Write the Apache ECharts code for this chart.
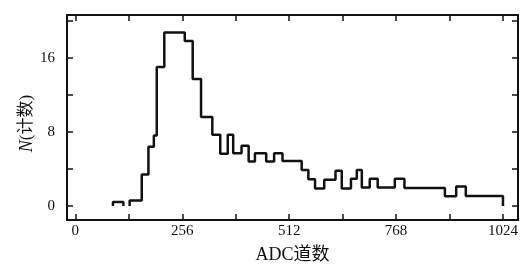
<!DOCTYPE html>
<html>
<head>
<meta charset="utf-8">
<script src="https://cdn.jsdelivr.net/npm/echarts@6.0.0/dist/echarts.min.js"></script>
<style>
html,body{margin:0;padding:0;background:#fff}
#main{width:526px;height:264px}
</style>
</head>
<body>
<div id="main"></div>
<script>
// bin edges (ADC channel) and level of each bin
var edges = [130,159,175,188,195,213,262,281,301,328,347,365,378,398,415,430,457,476,496,542,
             558,574,596,623,638,660,674,686,705,724,765,788,885,912,935,1024];
var counts = [0.6,3.4,6.4,7.6,15.0,18.7,17.8,13.7,9.6,7.7,5.65,7.7,5.7,6.5,4.8,5.7,4.8,5.7,4.85,
              3.9,2.9,1.9,2.85,3.8,1.9,2.95,3.9,2.0,2.95,2.0,2.95,1.95,1.05,2.1,1.1];
// the small lone bin at the left
var bumpEdges = [90, 115];
var bumpCounts = [0.45];

var xTicks = [0,128,256,384,512,640,768,896,1024];
var xLabels = [0,256,512,768,1024];
var yTicks = [0,4,8,12,16,20];
var yLabels = [0,8,16];

var serif = '"Liberation Serif", "Noto Sans CJK SC", serif';

function stepData(e, c) {
    var res = [[e[0], 0]];
    for (var i = 0; i < c.length; i++) {
        res.push([e[i], c[i]]);
    }
    res.push([e[e.length - 1], 0]);
    return res;
}

function axisX(pos, show) {
    return {
        type: 'value',
        position: pos,
        min: -20,
        max: 1060,
        name: show ? 'ADC道数' : '',
        nameLocation: 'middle',
        nameGap: 26,
        nameTextStyle: { fontFamily: serif, fontSize: 18, color: '#111' },
        splitLine: { show: false },
        axisLine: { show: true, onZero: false, lineStyle: { color: '#111', width: 2 } },
        axisTick: { show: true, inside: true, length: 6, customValues: xTicks, lineStyle: { color: '#111', width: 1.5 } },
        axisLabel: {
            show: show, customValues: xLabels, margin: 4, fontFamily: serif, fontSize: 15, color: '#111',
            formatter: function (v) { return String(v); }
        }
    };
}

function axisY(pos, show) {
    return {
        type: 'value',
        position: pos,
        min: -1.5,
        max: 20.6,
        name: show ? '{n|N}(计数)' : '',
        nameLocation: 'middle',
        nameRotate: 90,
        nameGap: 31,
        nameMoveOverlap: false,
        nameTextStyle: {
            fontFamily: serif, fontSize: 17, color: '#111',
            padding: [0, 0, 0, -12],
            rich: { n: { fontFamily: serif, fontStyle: 'italic', fontSize: 18, color: '#111' } }
        },
        splitLine: { show: false },
        axisLine: { show: true, onZero: false, lineStyle: { color: '#111', width: 2 } },
        axisTick: { show: true, inside: true, length: 6, customValues: yTicks, lineStyle: { color: '#111', width: 1.5 } },
        axisLabel: { show: show, customValues: yLabels, margin: 12, fontFamily: serif, fontSize: 15, color: '#111' }
    };
}

var myChart = echarts.init(document.getElementById('main'));
option = {
    backgroundColor: '#fff',
    animation: false,
    grid: { left: 67, right: 8, top: 15, bottom: 44, outerBoundsMode: 'none' },
    xAxis: [axisX('bottom', true), axisX('top', false)],
    yAxis: [axisY('left', true), axisY('right', false)],
    series: [
        {
            type: 'line',
            step: 'end',
            data: stepData(edges, counts),
            symbol: 'none',
            lineStyle: { color: '#111', width: 2.5 }
        },
        {
            type: 'line',
            step: 'end',
            data: stepData(bumpEdges, bumpCounts),
            symbol: 'none',
            lineStyle: { color: '#111', width: 2.5 }
        }
    ]
};
myChart.setOption(option);
</script>
</body>
</html>
